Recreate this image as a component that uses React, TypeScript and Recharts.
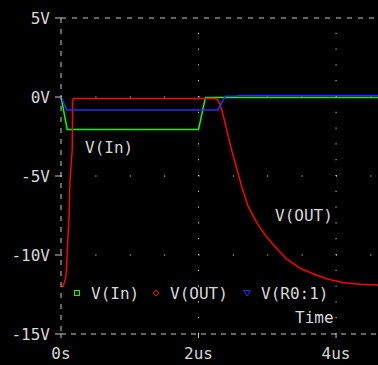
import React from 'react';
import { LineChart, Line, XAxis, YAxis, ReferenceLine } from 'recharts';

// time axis in microseconds, voltages in volts
const inTime = [0, 0.09, 2.0, 2.1, 4.61];
const inVolts = [0, -2.05, -2.05, -0.03, -0.03];

const outTime = [
  0, 0.03, 0.05, 0.07, 0.08, 0.1, 0.12, 0.131, 0.164, 0.168, 0.178, 2.0, 2.1, 2.22, 2.27, 2.3,
  2.34, 2.41, 2.48, 2.56, 2.63, 2.72, 2.82, 2.9, 2.99, 3.09, 3.28, 3.48, 3.67, 3.86, 4.11, 4.35,
  4.61,
];
const outVolts = [
  -12.0, -12.0, -11.7, -11.4, -10.8, -9.05, -7.3, -5.25, -3.3, -0.3, -0.1, -0.1, -0.1, -0.1,
  -0.15, -0.35, -0.82, -2.1, -3.35, -4.6, -5.7, -6.9, -7.75, -8.3, -8.85, -9.37, -10.25, -10.84,
  -11.2, -11.5, -11.75, -11.85, -11.9,
];

const r0Time = [0, 0.085, 2.28, 2.39, 2.56, 2.58, 4.61];
const r0Volts = [0, -0.82, -0.82, 0.05, 0.05, 0.1, 0.1];

const xTicks = [0, 2, 4];
const yTicks = [-15, -10, -5, 0, 5];
const gridX = [2, 4];
const gridY = [0, -5, -10];

const seriesNames = ['V(In)', 'V(OUT)', 'V(R0:1)'];
const seriesColors = ['#00ff00', '#ff0000', '#2a2aff'];

const toPoints = (ts: number[], vs: number[]) => ts.map((t, i) => ({ t, v: vs[i] }));

const FONT = '"DejaVu Sans Mono", monospace';
const TEXT = '#d8d8d8';
const AXIS = '#c8c8c8';

const Marker: React.FC<{ kind: number; x: number; y: number; color: string }> = ({ kind, x, y, color }) => {
  if (kind === 0) return <rect x={x - 2.5} y={y - 2.5} width={5} height={5} fill="none" stroke={color} strokeWidth={1} />;
  if (kind === 1)
    return <polygon points={`${x},${y - 3} ${x + 3},${y} ${x},${y + 3} ${x - 3},${y}`} fill="none" stroke={color} strokeWidth={1} />;
  return <polygon points={`${x - 3.5},${y - 2.5} ${x + 3.5},${y - 2.5} ${x},${y + 3}`} fill="none" stroke={color} strokeWidth={1} />;
};

const legendX = [77, 156, 247];

export default function App() {
  const lines = [toPoints(inTime, inVolts), toPoints(outTime, outVolts), toPoints(r0Time, r0Volts)];

  return (
    <div style={{ position: 'absolute', left: 0, top: 0, width: 378, height: 365, background: '#000', overflow: 'hidden' }}>
      <LineChart width={378} height={365} margin={{ top: 18, right: 0, left: 0, bottom: 0 }}>
        <XAxis
          dataKey="t"
          type="number"
          domain={[0, 4.61]}
          ticks={xTicks}
          allowDataOverflow
          height={31}
          tickFormatter={(v: number) => (v === 0 ? '0s' : `${v}us`)}
          tick={{ fill: TEXT, fontSize: 16, fontFamily: FONT }}
          tickSize={4}
          tickMargin={10}
          axisLine={{ stroke: AXIS, strokeDasharray: '5 5' }}
          tickLine={{ stroke: AXIS }}
        />
        <YAxis
          type="number"
          domain={[-15, 5]}
          ticks={yTicks}
          width={61}
          tickFormatter={(v: number) => `${v}V`}
          tick={{ fill: TEXT, fontSize: 16, fontFamily: FONT }}
          tickSize={6}
          tickMargin={5}
          axisLine={{ stroke: AXIS, strokeDasharray: '5 6' }}
          tickLine={{ stroke: AXIS }}
        />
        <ReferenceLine y={5} stroke={AXIS} strokeDasharray="5 6" />
        {gridX.map((x) => (
          <ReferenceLine key={`gx${x}`} x={x} stroke="#ffffff" strokeDasharray="1 14.8" />
        ))}
        {gridY.map((y) => (
          <ReferenceLine key={`gy${y}`} y={y} stroke="#ffffff" strokeDasharray="1 33.375" />
        ))}
        {lines.map((pts, i) => (
          <Line
            key={seriesNames[i]}
            data={pts}
            dataKey="v"
            name={seriesNames[i]}
            type="linear"
            stroke={seriesColors[i]}
            strokeWidth={1.5}
            dot={false}
            isAnimationActive={false}
          />
        ))}
      </LineChart>
      <svg width={378} height={365} style={{ position: 'absolute', left: 0, top: 0, pointerEvents: 'none' }}>
        <g fontFamily={FONT} fontSize={16} fill={TEXT} dominantBaseline="central">
          <text x={85} y={147}>V(In)</text>
          <text x={275} y={215}>V(OUT)</text>
          <text x={295} y={317}>Time</text>
          {seriesNames.map((name, i) => (
            <text key={name} x={legendX[i] + 14} y={293}>
              {name}
            </text>
          ))}
        </g>
        {seriesNames.map((name, i) => (
          <Marker key={name} kind={i} x={legendX[i]} y={293} color={seriesColors[i]} />
        ))}
      </svg>
    </div>
  );
}
